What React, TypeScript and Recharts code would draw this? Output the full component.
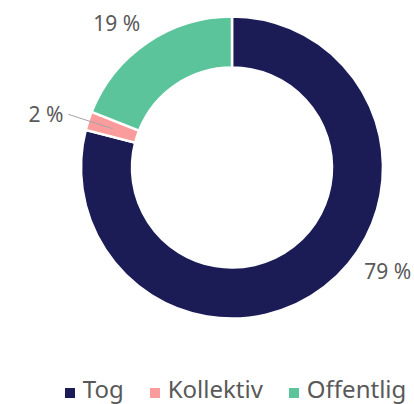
import { PieChart, Pie, Cell, Legend } from 'recharts';

const categories = ['Tog', 'Kollektiv', 'Offentlig'];
const shares = [79, 2, 19];
const colors = ['#1b1c56', '#fb9c9c', '#5bc49a'];

// label placement relative to slice middle: angle offset (deg), radius (px), leader line
const labelSpots: Record<string, { dAngle: number; r: number; line?: boolean }> = {
  Tog: { dAngle: 18.6, r: 187 },
  Kollektiv: { dAngle: 0, r: 172, line: true },
  Offentlig: { dAngle: 4.3, r: 185 },
};

const data = categories.map((name, i) => ({ name, value: shares[i] }));

const RADIAN = Math.PI / 180;
const textColor = '#595959';
const font = '"Noto Sans", "Liberation Sans", sans-serif';

const renderLabel = (props: any) => {
  const { cx, cy, midAngle, name, value, innerRadius, outerRadius } = props;
  const spot = labelSpots[name];
  const a = (midAngle + spot.dAngle) * RADIAN;
  const x = cx + spot.r * Math.cos(-a);
  const y = cy + spot.r * Math.sin(-a);
  if (spot.line) {
    const rIn = (innerRadius + outerRadius) / 2;
    const x0 = cx + rIn * Math.cos(-a);
    const y0 = cy + rIn * Math.sin(-a);
    return (
      <g>
        <line x1={x0} y1={y0} x2={x} y2={y} stroke="#a6a6a6" strokeWidth={1} />
        <text x={x - 5} y={y} textAnchor="end" dominantBaseline="central" fill={textColor} fontSize={21} fontFamily={font}>
          {`${value} %`}
        </text>
      </g>
    );
  }
  return (
    <text x={x} y={y} textAnchor="middle" dominantBaseline="central" fill={textColor} fontSize={21} fontFamily={font}>
      {`${value} %`}
    </text>
  );
};

const renderLegend = () => (
  <div style={{ display: 'flex', justifyContent: 'center', paddingLeft: 57, fontFamily: font, fontSize: 24, lineHeight: '24px', color: textColor }}>
    {categories.map((name, i) => (
      <span key={name} style={{ marginRight: i < categories.length - 1 ? 26 : 0, whiteSpace: 'nowrap' }}>
        <span style={{ display: 'inline-block', width: 10, height: 10, background: colors[i], marginRight: 8 }} />
        {name}
      </span>
    ))}
  </div>
);

export default function App() {
  return (
    <div style={{ position: 'fixed', left: 0, top: 0, width: 414, height: 404, background: '#fff', overflow: 'hidden' }}>
      <PieChart width={414} height={404} margin={{ top: 0, right: 0, bottom: 0, left: 0 }}>
        <Pie
          data={data}
          dataKey="value"
          nameKey="name"
          cx={232}
          cy={167.5}
          innerRadius={100}
          outerRadius={151}
          startAngle={90}
          endAngle={-270}
          stroke="#ffffff"
          strokeWidth={2.5}
          label={renderLabel}
          labelLine={false}
          isAnimationActive={false}
        >
          {data.map((d, i) => (
            <Cell key={d.name} fill={colors[i]} />
          ))}
        </Pie>
        <Legend content={renderLegend} wrapperStyle={{ position: 'absolute', top: 377, left: 0, width: 414 }} />
      </PieChart>
    </div>
  );
}
